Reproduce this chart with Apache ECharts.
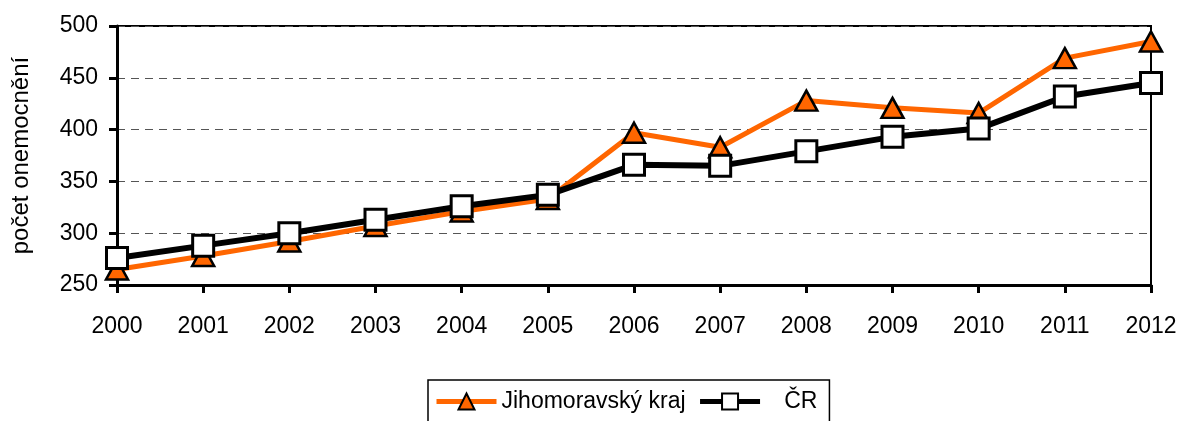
<!DOCTYPE html>
<html>
<head>
<meta charset="utf-8">
<script src="https://cdn.jsdelivr.net/npm/echarts@6/dist/echarts.min.js"></script>
<style>
  html, body { margin: 0; padding: 0; background: #fff; }
  #chart { width: 1181px; height: 421px; }
</style>
</head>
<body>
<div id="chart"></div>
<script>
const years = ["2000", "2001", "2002", "2003", "2004", "2005", "2006", "2007", "2008", "2009", "2010", "2011", "2012"];
const jihomoravsky = [265, 278, 292, 307, 321, 333, 397, 383, 428, 421, 416, 469, 485];
const cr = [276, 288, 300, 313, 326, 337, 366, 365, 379, 393, 401, 432, 445];

const font = "'Liberation Sans', Arial, sans-serif";
let myChart = echarts.init(document.getElementById("chart"));
let option = {
  backgroundColor: "#fff",
  animation: false,
  textStyle: { fontFamily: font },
  grid: {
    left: 117,
    right: 30,
    top: 26,
    bottom: 136,
    show: true,
    borderColor: "#000",
    borderWidth: 2
  },
  legend: {
    bottom: -6,
    left: 428,
    itemWidth: 60,
    itemHeight: 20,
    itemGap: 12,
    padding: [10, 12, 14, 6],
    borderColor: "#000",
    borderWidth: 1.5,
    lineStyle: { width: 5 },
    textStyle: { fontSize: 23, color: "#000", fontFamily: font },
    formatter: function(name) {
      return name === "ČR" ? "   " + name : name;
    },
    data: ["Jihomoravský kraj", "ČR"]
  },
  xAxis: {
    type: "category",
    data: years,
    boundaryGap: false,
    axisLine: { lineStyle: { color: "#000", width: 3 } },
    axisTick: { show: true, length: 8, alignWithLabel: true, lineStyle: { color: "#000", width: 3 } },
    axisLabel: { color: "#000", fontSize: 23, margin: 30, fontFamily: font },
    splitLine: { show: false }
  },
  yAxis: {
    type: "value",
    min: 250,
    max: 500,
    interval: 50,
    name: "počet onemocnění",
    nameLocation: "middle",
    nameGap: 84,
    nameTextStyle: { fontSize: 24, color: "#000", fontFamily: font },
    axisLine: { show: true, lineStyle: { color: "#000", width: 3 } },
    axisTick: { show: true, length: 8, lineStyle: { color: "#000", width: 3 } },
    axisLabel: { color: "#000", fontSize: 23, margin: 19, fontFamily: font },
    splitLine: { show: true, lineStyle: { color: "#555", type: [8, 6], width: 1 } }
  },
  series: [
    {
      name: "Jihomoravský kraj",
      type: "line",
      data: jihomoravsky,
      symbol: "triangle",
      symbolSize: [22, 20],
      lineStyle: { color: "#ff6600", width: 5 },
      itemStyle: { color: "#ff6600", borderColor: "#000", borderWidth: 2.5 },
      z: 2
    },
    {
      name: "ČR",
      type: "line",
      data: cr,
      symbol: "rect",
      symbolSize: 21,
      lineStyle: { color: "#000", width: 6 },
      itemStyle: { color: "#fff", borderColor: "#000", borderWidth: 3 },
      z: 3
    }
  ]
};
myChart.setOption(option);
</script>
</body>
</html>
